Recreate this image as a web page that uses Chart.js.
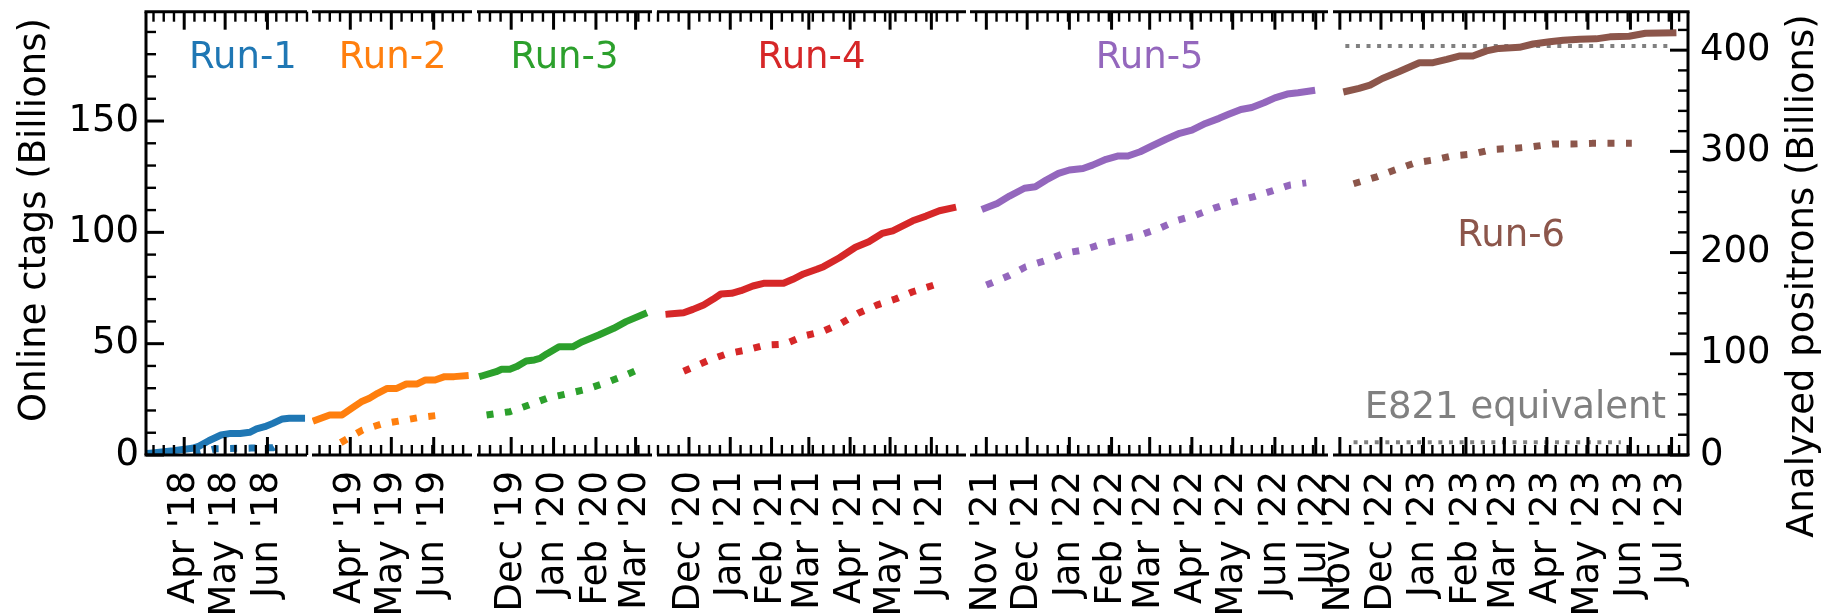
<!DOCTYPE html>
<html>
<head>
<meta charset="utf-8">
<script src="https://cdn.jsdelivr.net/npm/chart.js@4.4.1/dist/chart.umd.min.js"></script>
<style>
  html, body { margin: 0; padding: 0; background: #fff; }
  #wrap { position: relative; width: 1824px; height: 616px; overflow: hidden; }
  #wrap canvas { position: absolute; left: 0; top: 0; }
</style>
</head>
<body>
<div id="wrap"></div>
<script>
// ---- values ----
const runNames = ["Run-1", "Run-2", "Run-3", "Run-4", "Run-5", "Run-6"];
const runColors = ["#1f77b4", "#ff7f0e", "#2ca02c", "#d62728", "#9467bd", "#8c564b"];
const monthNames = ["Jan", "Feb", "Mar", "Apr", "May", "Jun", "Jul", "Aug", "Sep", "Oct", "Nov", "Dec"];

// date span of each broken-axis panel
const panelStart = ["2018-03-04", "2019-03-04", "2019-11-06", "2020-11-07", "2021-10-20", "2022-10-27"];
const panelEnd   = ["2018-06-30", "2019-06-29", "2020-03-13", "2021-06-27", "2022-07-10", "2023-07-13"];

// Run-1
const run1CtagDates = ["2018-03-07","2018-03-24","2018-04-07","2018-04-12","2018-04-19","2018-04-28","2018-05-05","2018-05-12","2018-05-19","2018-05-24","2018-05-30","2018-06-05","2018-06-12","2018-06-17","2018-06-26"];
const run1Ctags = [0.8, 1.9, 3.0, 4.0, 6.4, 9.0, 9.7, 9.7, 10.2, 11.7, 12.7, 14.2, 16.2, 16.5, 16.5];
const run1PosDates = ["2018-04-08","2018-04-24","2018-05-20","2018-06-05","2018-06-10"];
const run1Positrons = [1.0, 6.2, 6.8, 7.2, 11.5];

// Run-2
const run2CtagDates = ["2019-03-07","2019-03-17","2019-03-26","2019-04-03","2019-04-09","2019-04-15","2019-04-21","2019-04-28","2019-05-05","2019-05-12","2019-05-20","2019-05-26","2019-06-02","2019-06-09","2019-06-16","2019-06-24"];
const run2Ctags = [15.7, 18.0, 18.0, 21.4, 23.9, 25.5, 27.7, 29.9, 29.9, 31.9, 31.9, 33.7, 33.7, 35.2, 35.2, 35.6];
const run2PosDates = ["2019-03-25","2019-04-10","2019-04-24","2019-05-08","2019-05-22","2019-06-06"];
const run2Positrons = [12.2, 24.7, 30.6, 33.9, 37.2, 39.5];

// Run-3
const run3CtagDates = ["2019-11-10","2019-11-20","2019-11-24","2019-11-30","2019-12-05","2019-12-12","2019-12-18","2019-12-22","2019-12-27","2020-01-05","2020-01-15","2020-01-22","2020-02-03","2020-02-14","2020-02-23","2020-03-07"];
const run3Ctags = [35.6, 37.4, 38.5, 38.5, 39.7, 42.2, 42.7, 43.4, 45.4, 48.6, 48.6, 50.9, 53.9, 56.9, 59.9, 63.3];
const run3PosDates = ["2019-11-13","2019-11-30","2019-12-14","2019-12-27","2020-01-10","2020-01-25","2020-02-07","2020-02-21","2020-03-05"];
const run3Positrons = [39.5, 42.8, 49.4, 56.0, 60.2, 64.9, 70.8, 78.0, 85.6];

// Run-4
const run4CtagDates = ["2020-11-16","2020-11-27","2020-12-04","2020-12-12","2020-12-19","2020-12-25","2021-01-02","2021-01-09","2021-01-18","2021-01-26","2021-02-10","2021-02-17","2021-02-25","2021-03-07","2021-03-12","2021-03-24","2021-04-05","2021-04-15","2021-04-25","2021-05-03","2021-05-18","2021-05-28","2021-06-07","2021-06-17"];
const run4Ctags = [63.3, 63.9, 65.4, 67.4, 69.9, 72.3, 72.6, 73.8, 75.9, 77.1, 77.1, 78.9, 81.3, 83.4, 84.6, 88.6, 93.3, 95.8, 99.5, 100.7, 105.2, 107.3, 109.7, 111.0];
const run4PosDates = ["2020-11-27","2020-12-15","2020-12-29","2021-01-13","2021-01-27","2021-02-11","2021-02-25","2021-03-11","2021-03-25","2021-04-07","2021-04-21","2021-05-05","2021-05-18","2021-06-03"];
const run4Positrons = [82.7, 93.1, 99.8, 103.7, 108.6, 109.6, 117.5, 121.8, 130.0, 140.0, 148.1, 154.1, 161.3, 167.9];

// Run-5
const run5CtagDates = ["2021-10-31","2021-11-09","2021-11-18","2021-11-29","2021-12-07","2021-12-15","2021-12-24","2022-01-01","2022-01-11","2022-01-18","2022-01-28","2022-02-06","2022-02-13","2022-02-22","2022-03-03","2022-03-13","2022-03-23","2022-04-01","2022-04-11","2022-04-21","2022-04-28","2022-05-07","2022-05-15","2022-05-24","2022-06-01","2022-06-10","2022-06-18","2022-06-28"];
const run5Ctags = [110.8, 113.0, 116.3, 119.8, 120.5, 123.5, 126.5, 128.0, 128.7, 130.2, 132.8, 134.3, 134.3, 136.2, 138.9, 141.8, 144.5, 145.9, 148.9, 151.2, 153.0, 155.2, 156.1, 158.2, 160.4, 162.1, 162.7, 163.6];
const run5PosDates = ["2021-11-01","2021-11-17","2021-11-30","2021-12-14","2021-12-28","2022-01-11","2022-01-25","2022-02-08","2022-02-22","2022-03-08","2022-03-22","2022-04-04","2022-04-18","2022-05-02","2022-05-16","2022-05-30","2022-06-12","2022-06-24"];
const run5Positrons = [167.9, 176.8, 186.0, 191.9, 199.2, 202.5, 208.4, 213.0, 217.3, 223.9, 232.1, 237.0, 244.2, 250.2, 255.1, 261.0, 266.7, 268.9];

// Run-6
const run6CtagDates = ["2022-11-06","2022-11-15","2022-11-23","2022-12-02","2022-12-14","2022-12-29","2023-01-08","2023-01-18","2023-01-27","2023-02-06","2023-02-16","2023-02-25","2023-03-12","2023-03-22","2023-04-03","2023-04-13","2023-04-25","2023-05-07","2023-05-17","2023-05-31","2023-06-12","2023-07-02"];
const run6Ctags = [163.4, 164.7, 166.1, 169.1, 172.1, 176.2, 176.2, 177.7, 179.2, 179.2, 181.5, 182.6, 183.1, 184.6, 185.6, 186.3, 186.7, 186.9, 187.8, 188.1, 189.4, 189.6];
const run6PosDates = ["2022-11-11","2022-11-28","2022-12-11","2022-12-26","2023-01-08","2023-01-22","2023-02-06","2023-02-20","2023-03-07","2023-03-21","2023-04-05","2023-04-19","2023-05-04","2023-05-18","2023-06-02"];
const run6Positrons = [268.0, 274.9, 281.5, 288.7, 291.4, 295.6, 297.3, 301.9, 302.9, 304.5, 307.2, 307.2, 307.9, 307.9, 307.9];

// E821 reference levels (analyzed positrons)
const e821TopDates = ["2022-11-05", "2023-06-28"];
const e821Top = [404, 404];
const e821Dates = ["2022-11-11", "2023-05-25"];
const e821Level = [12.5, 12.5];

// text anchors: date + ctag value of the baseline
const runLabelDates = ["2018-05-14", "2019-05-02", "2020-01-09", "2021-03-03", "2022-03-01", "2023-03-06"];
const runLabelValues = [174, 174, 174, 174, 174, 93.8];

// ---- layout ----
const panelLeft  = [146, 312, 477, 657, 970, 1333];
const panelRight = [307, 472, 652, 966, 1328, 1688];
const W = 1824, H = 616, AREA_TOP = 11.7, AREA_BOTTOM = 455;
const CTAG_MAX = 199.1, POS_MAX = 438;
const FONT = '"DejaVu Sans", sans-serif';

const runs = [
  [run1CtagDates, run1Ctags, run1PosDates, run1Positrons],
  [run2CtagDates, run2Ctags, run2PosDates, run2Positrons],
  [run3CtagDates, run3Ctags, run3PosDates, run3Positrons],
  [run4CtagDates, run4Ctags, run4PosDates, run4Positrons],
  [run5CtagDates, run5Ctags, run5PosDates, run5Positrons],
  [run6CtagDates, run6Ctags, run6PosDates, run6Positrons]
];

const day = s => Date.UTC(+s.slice(0, 4), +s.slice(5, 7) - 1, +s.slice(8, 10)) / 864e5;
const pts = (dates, vals) => dates.map((d, k) => ({ x: day(d), y: vals[k] }));

// month starts as major ticks, 4 equal minor divisions (like matplotlib AutoMinorLocator)
function monthTicks(min, max) {
  const d0 = new Date(min * 864e5);
  let y = d0.getUTCFullYear(), m = d0.getUTCMonth();
  const majors = [];
  while (true) {
    if (m > 11) { m -= 12; y++; }
    const v = Date.UTC(y, m, 1) / 864e5;
    if (v > max) break;
    if (v >= min) majors.push({ value: v, mj: true, lab: monthNames[m] + " '" + String(y).slice(2) });
    m++;
  }
  const out = majors.slice();
  const t0 = majors[0].value;
  const step = (majors[1].value - majors[0].value) / 4;
  for (let k = Math.ceil((min - t0) / step); t0 + k * step <= max; k++) {
    const v = t0 + k * step;
    if (!majors.some(q => Math.abs(q.value - v) < 1e-6)) out.push({ value: v });
  }
  return out.sort((a, b) => a.value - b.value);
}

const range = (a, b, s) => { const r = []; for (let v = a; v <= b; v += s) r.push({ value: v }); return r; };

// spines and inward ticks, matplotlib style
const frame = {
  id: 'frame',
  afterDraw(chart, args, o) {
    const { ctx, chartArea: a, scales } = chart;
    const seg = (x1, y1, x2, y2) => { ctx.beginPath(); ctx.moveTo(x1, y1); ctx.lineTo(x2, y2); ctx.stroke(); };
    ctx.save();
    ctx.strokeStyle = '#000';
    ctx.lineCap = 'butt';
    scales.x.ticks.forEach(t => {
      const px = scales.x.getPixelForValue(t.value);
      const len = t.mj ? 18 : 10;
      ctx.lineWidth = t.mj ? 3 : 2.4;
      seg(px, a.bottom, px, a.bottom - len);
      seg(px, a.top, px, a.top + len);
    });
    if (o.left) {
      scales.y.ticks.forEach(t => {
        const py = scales.y.getPixelForValue(t.value);
        const mj = t.value % 50 === 0;
        ctx.lineWidth = mj ? 3 : 2.4;
        seg(a.left, py, a.left + (mj ? 18 : 10), py);
      });
    }
    if (o.right) {
      scales.y2.ticks.forEach(t => {
        const py = scales.y2.getPixelForValue(t.value);
        const mj = t.value % 100 === 0;
        ctx.lineWidth = mj ? 3 : 2.4;
        seg(a.right, py, a.right - (mj ? 18 : 10), py);
      });
    }
    ctx.lineWidth = 3;
    const l = a.left - (o.left ? 1.5 : 0), r = a.right + (o.right ? 1.5 : 0);
    seg(l, a.top, r, a.top);
    seg(l, a.bottom, r, a.bottom);
    if (o.left) seg(a.left, a.top, a.left, a.bottom);
    if (o.right) seg(a.right, a.top, a.right, a.bottom);
    ctx.restore();
  }
};

// run names, E821 note and axis titles
const notes = {
  id: 'notes',
  afterDraw(chart, args, o) {
    const { ctx, scales } = chart;
    ctx.save();
    ctx.font = '37px ' + FONT;
    ctx.textAlign = 'center';
    ctx.textBaseline = 'alphabetic';
    (o.items || []).forEach(n => {
      ctx.fillStyle = n.color;
      ctx.fillText(n.text, scales.x.getPixelForValue(day(n.date)), scales.y.getPixelForValue(n.value));
    });
    (o.titles || []).forEach(t => {
      ctx.save();
      ctx.translate(t.x, t.y);
      ctx.rotate(-Math.PI / 2);
      ctx.fillStyle = '#000';
      ctx.fillText(t.text, 0, 0);
      ctx.restore();
    });
    ctx.restore();
  }
};

const wrap = document.getElementById('wrap');

runs.forEach((run, i) => {
  const first = i === 0, last = i === runs.length - 1;
  const canvas = document.createElement('canvas');
  canvas.width = W; canvas.height = H;
  wrap.appendChild(canvas);

  const datasets = [
    { data: pts(run[0], run[1]), yAxisID: 'y', borderColor: runColors[i], borderWidth: 7,
      borderCapStyle: 'square', borderJoinStyle: 'round' },
    { data: pts(run[2], run[3]), yAxisID: 'y2', borderColor: runColors[i], borderWidth: 7,
      borderDash: [7, 11.5], borderCapStyle: 'butt', borderJoinStyle: 'round' }
  ];
  const items = [{ text: runNames[i], color: runColors[i], date: runLabelDates[i], value: runLabelValues[i] }];
  const titles = [];
  if (last) {
    datasets.push(
      { data: pts(e821TopDates, e821Top), yAxisID: 'y2', borderColor: '#808080', borderWidth: 4, borderDash: [4, 6.6] },
      { data: pts(e821Dates, e821Level), yAxisID: 'y2', borderColor: '#808080', borderWidth: 4, borderDash: [4, 6.6] }
    );
    items.push({ text: 'E821 equivalent', color: '#808080', date: '2023-03-09', value: 16.5 });
    titles.push({ text: 'Analyzed positrons (Billions)', x: 1813, y: 276 });
  }
  if (first) titles.push({ text: 'Online ctags (Billions)', x: 45, y: 220 });

  const tickFont = { family: FONT, size: 37 };

  new Chart(canvas, {
    type: 'line',
    data: { datasets },
    options: {
      responsive: false,
      animation: false,
      events: [],
      elements: { point: { radius: 0 }, line: { tension: 0, fill: false } },
      layout: {
        padding: {
          left: first ? 0 : panelLeft[i],
          right: last ? 0 : W - panelRight[i],
          top: AREA_TOP,
          bottom: 0
        }
      },
      plugins: {
        legend: { display: false },
        tooltip: { enabled: false },
        frame: { left: first, right: last },
        notes: { items, titles }
      },
      scales: {
        x: {
          type: 'linear', position: 'bottom', bounds: 'data',
          min: day(panelStart[i]), max: day(panelEnd[i]),
          grid: { display: false, drawTicks: false },
          border: { display: false },
          ticks: {
            autoSkip: false, minRotation: 90, maxRotation: 90, padding: 16,
            color: '#000', font: tickFont,
            callback: (v, k, t) => (t[k] && t[k].lab) || ''
          },
          afterBuildTicks: s => { s.ticks = monthTicks(s.min, s.max); },
          afterFit: s => { s.height = H - AREA_BOTTOM; s.paddingLeft = 0; s.paddingRight = 0; }
        },
        y: {
          type: 'linear', position: 'left', display: first, bounds: 'data',
          min: 0, max: CTAG_MAX,
          grid: { display: false, drawTicks: false },
          border: { display: false },
          ticks: { autoSkip: false, padding: 7, color: '#000', font: tickFont,
            callback: v => (v % 50 === 0 ? String(v) : '') },
          afterBuildTicks: s => { s.ticks = range(0, 190, 10); },
          afterFit: s => { if (first) s.width = panelLeft[0]; s.paddingTop = 0; s.paddingBottom = 0; }
        },
        y2: {
          type: 'linear', position: 'right', display: last, bounds: 'data',
          min: 0, max: POS_MAX,
          grid: { display: false, drawTicks: false },
          border: { display: false },
          ticks: { autoSkip: false, padding: 12, color: '#000', font: tickFont,
            callback: v => (v % 100 === 0 ? String(v) : '') },
          afterBuildTicks: s => { s.ticks = range(0, 420, 20); },
          afterFit: s => { if (last) s.width = W - panelRight[5]; s.paddingTop = 0; s.paddingBottom = 0; }
        }
      }
    },
    plugins: [frame, notes]
  });
});
</script>
</body>
</html>
